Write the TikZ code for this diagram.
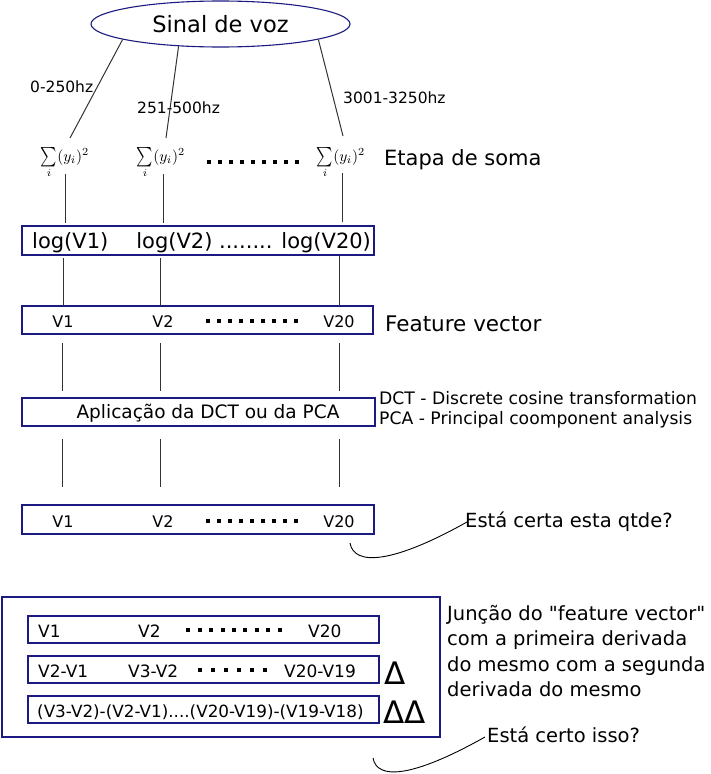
\documentclass[tikz,border=0pt]{standalone}
\usepackage{graphicx}
\usepackage{fontspec}
\setmainfont{DejaVu Sans}[Ligatures=TeXOff]
\usetikzlibrary{shapes.geometric}
\definecolor{nv}{RGB}{26,26,128}
\newcount\dcnt
\newcommand\dotrow[3]{\dcnt=0 \loop\ifnum\dcnt>0 \hspace{#3}\fi\rule{#2}{#2}\advance\dcnt 1 \ifnum\dcnt<#1 \repeat}
\newcommand\fs[1]{\fontsize{#1}{#1}\selectfont}
\newcommand\sumy{\scalebox{1.55}{$\mathop{\vcenter{\hbox{\scalebox{1}[1.25]{$\sum$}}}}\limits_i (y_i)^2$}}
\tikzset{
  ln/.style={draw=black!80, line width=1pt},
  bx/.style={draw=nv, line width=1.8pt, rectangle, inner sep=0pt},
  tx/.style={inner sep=0pt, anchor=base west},
  tc/.style={inner sep=0pt, anchor=base},
  dt/.style={inner sep=0pt, anchor=center},
}
\begin{document}
\begin{tikzpicture}[x=1pt,y=-1pt]
\useasboundingbox (0,0) rectangle (710,774);
% top ellipse
\node[ellipse, draw=nv, line width=1.1pt, minimum width=259pt, minimum height=46pt, inner sep=0pt, font=\fs{22.5}] (sv) at (220.5,24) {Sinal de voz};
% sums
\node[dt, font=\fs{10}] (s1) at (65,163) {\sumy};
\node[dt, font=\fs{10}] (s2) at (161,163) {\sumy};
\node[dt, font=\fs{10}] (s3) at (341,163) {\sumy};
\node[dt] (sd) at (253,162) {\dotrow{9}{4pt}{7pt}};
\node[tx, font=\fs{21}] (etapa) at (384,165) {Etapa de soma};
% branches from ellipse
\coordinate (e1) at (70,138);
\coordinate (e2) at (166,138);
\coordinate (e3) at (343,136);
\draw[ln] (sv.189) -- (e1);
\draw[ln] (sv.208) -- (e2);
\draw[ln] (sv.351) -- (e3);
\node[tx, font=\fs{15.5}] (f1) at (30,92) {0-250hz};
\node[tx, font=\fs{15.5}] (f2) at (137,113) {251-500hz};
\node[tx, font=\fs{15.5}] (f3) at (343,103) {3001-3250hz};
% boxes
\node[bx, minimum width=352pt, minimum height=29pt] (logb) at (198,240.5) {};
\node[tx, font=\fs{21}] (lg) at (32,248) {log(V1)\hspace{28pt}log(V2) ........ log(V20)};
\node[bx, minimum width=351pt, minimum height=28pt] (fvb) at (197.5,320) {};
\node[tc, font=\fs{16}] (fv1) at (63,327) {V1};
\node[tc, font=\fs{16}] (fv2) at (163,327) {V2};
\node[dt] (fvd) at (252,321) {\dotrow{9}{4pt}{7pt}};
\node[tc, font=\fs{16}] (fv3) at (339,327) {V20};
\node[tx, font=\fs{21.5}] (fvt) at (385,331) {Feature vector};
\node[bx, minimum width=353pt, minimum height=28pt] (dctb) at (198.5,412) {};
\node[tc, font=\fs{18.5}] (dctt) at (208,418) {Aplicação da DCT ou da PCA};
\node[tx, font=\fs{17.2}] (dct1) at (379,404) {DCT - Discrete cosine transformation};
\node[tx, font=\fs{17.2}] (dct2) at (379,424) {PCA - Principal coomponent analysis};
\node[bx, minimum width=352pt, minimum height=29pt] (finb) at (198,519.5) {};
\node[tc, font=\fs{16}] (fn1) at (63,527) {V1};
\node[tc, font=\fs{16}] (fn2) at (163,527) {V2};
\node[dt] (fnd) at (252,521) {\dotrow{9}{4pt}{7pt}};
\node[tc, font=\fs{16}] (fn3) at (339,527) {V20};
\node[tx, font=\fs{19.5}] (q1) at (465,527) {Está certa esta qtde?};
\coordinate (c1s) at (350,543);
\coordinate (c1e) at (467,522);
\draw[line width=0.9pt] (c1s) .. controls (354,566) and (392,564) .. (c1e);
% vertical connectors
\foreach \n/\x/\ya/\yb in {a/65/174/223, b/163/174/223, c/342/173/222,
  d/63/258/306, e/160/258/306, f/339/256/306,
  g/62/343/391, h/160/343/391, i/339/343/391,
  j/62/439/487, k/160/439/487, l/339/439/487}{
  \coordinate (t\n) at (\x,\ya);
  \coordinate (b\n) at (\x,\yb);
  \draw[ln] (t\n) -- (b\n);
}
% bottom block
\node[bx, minimum width=438pt, minimum height=140pt] (outer) at (221,667) {};
\node[bx, minimum width=351pt, minimum height=27pt] (r1) at (203.5,629.5) {};
\node[bx, minimum width=351pt, minimum height=27pt] (r2) at (203.5,669.5) {};
\node[bx, minimum width=351pt, minimum height=27pt] (r3) at (203.5,709.5) {};
\node[tx, font=\fs{17}] (r1a) at (38,637) {V1};
\node[tx, font=\fs{17}] (r1b) at (138,637) {V2};
\node[dt] (r1d) at (234,630) {\dotrow{9}{4pt}{7.4pt}};
\node[tx, font=\fs{17}] (r1c) at (308,637) {V20};
\node[tx, font=\fs{17}] (r2a) at (38,677) {V2-V1};
\node[tx, font=\fs{17}] (r2b) at (128,677) {V3-V2};
\node[dt] (r2d) at (232.5,670) {\dotrow{6}{4pt}{9pt}};
\node[tx, font=\fs{17}] (r2c) at (284,677) {V20-V19};
\node[tx, font=\fs{16.8}] (r3a) at (37,717) {(V3-V2)-(V2-V1)....(V20-V19)-(V19-V18)};
\node[tx, font=\fs{31}] (d1) at (384,684) {Δ};
\node[tx, font=\fs{31}] (d2) at (383,723) {ΔΔ};
\node[inner sep=0pt, anchor=north west, align=left, font=\fontsize{19.5}{25.5}\selectfont] (jn) at (447,605)
  {Junção do "feature vector"\\com a primeira derivada\\do mesmo com a segunda\\derivada do mesmo};
\node[tx, font=\fs{19.5}] (q2) at (487,742) {Está certo isso?};
\coordinate (c2s) at (373,758);
\coordinate (c2e) at (485,737);
\draw[line width=0.9pt] (c2s) .. controls (377,780) and (412,778) .. (c2e);
\end{tikzpicture}
\end{document}
